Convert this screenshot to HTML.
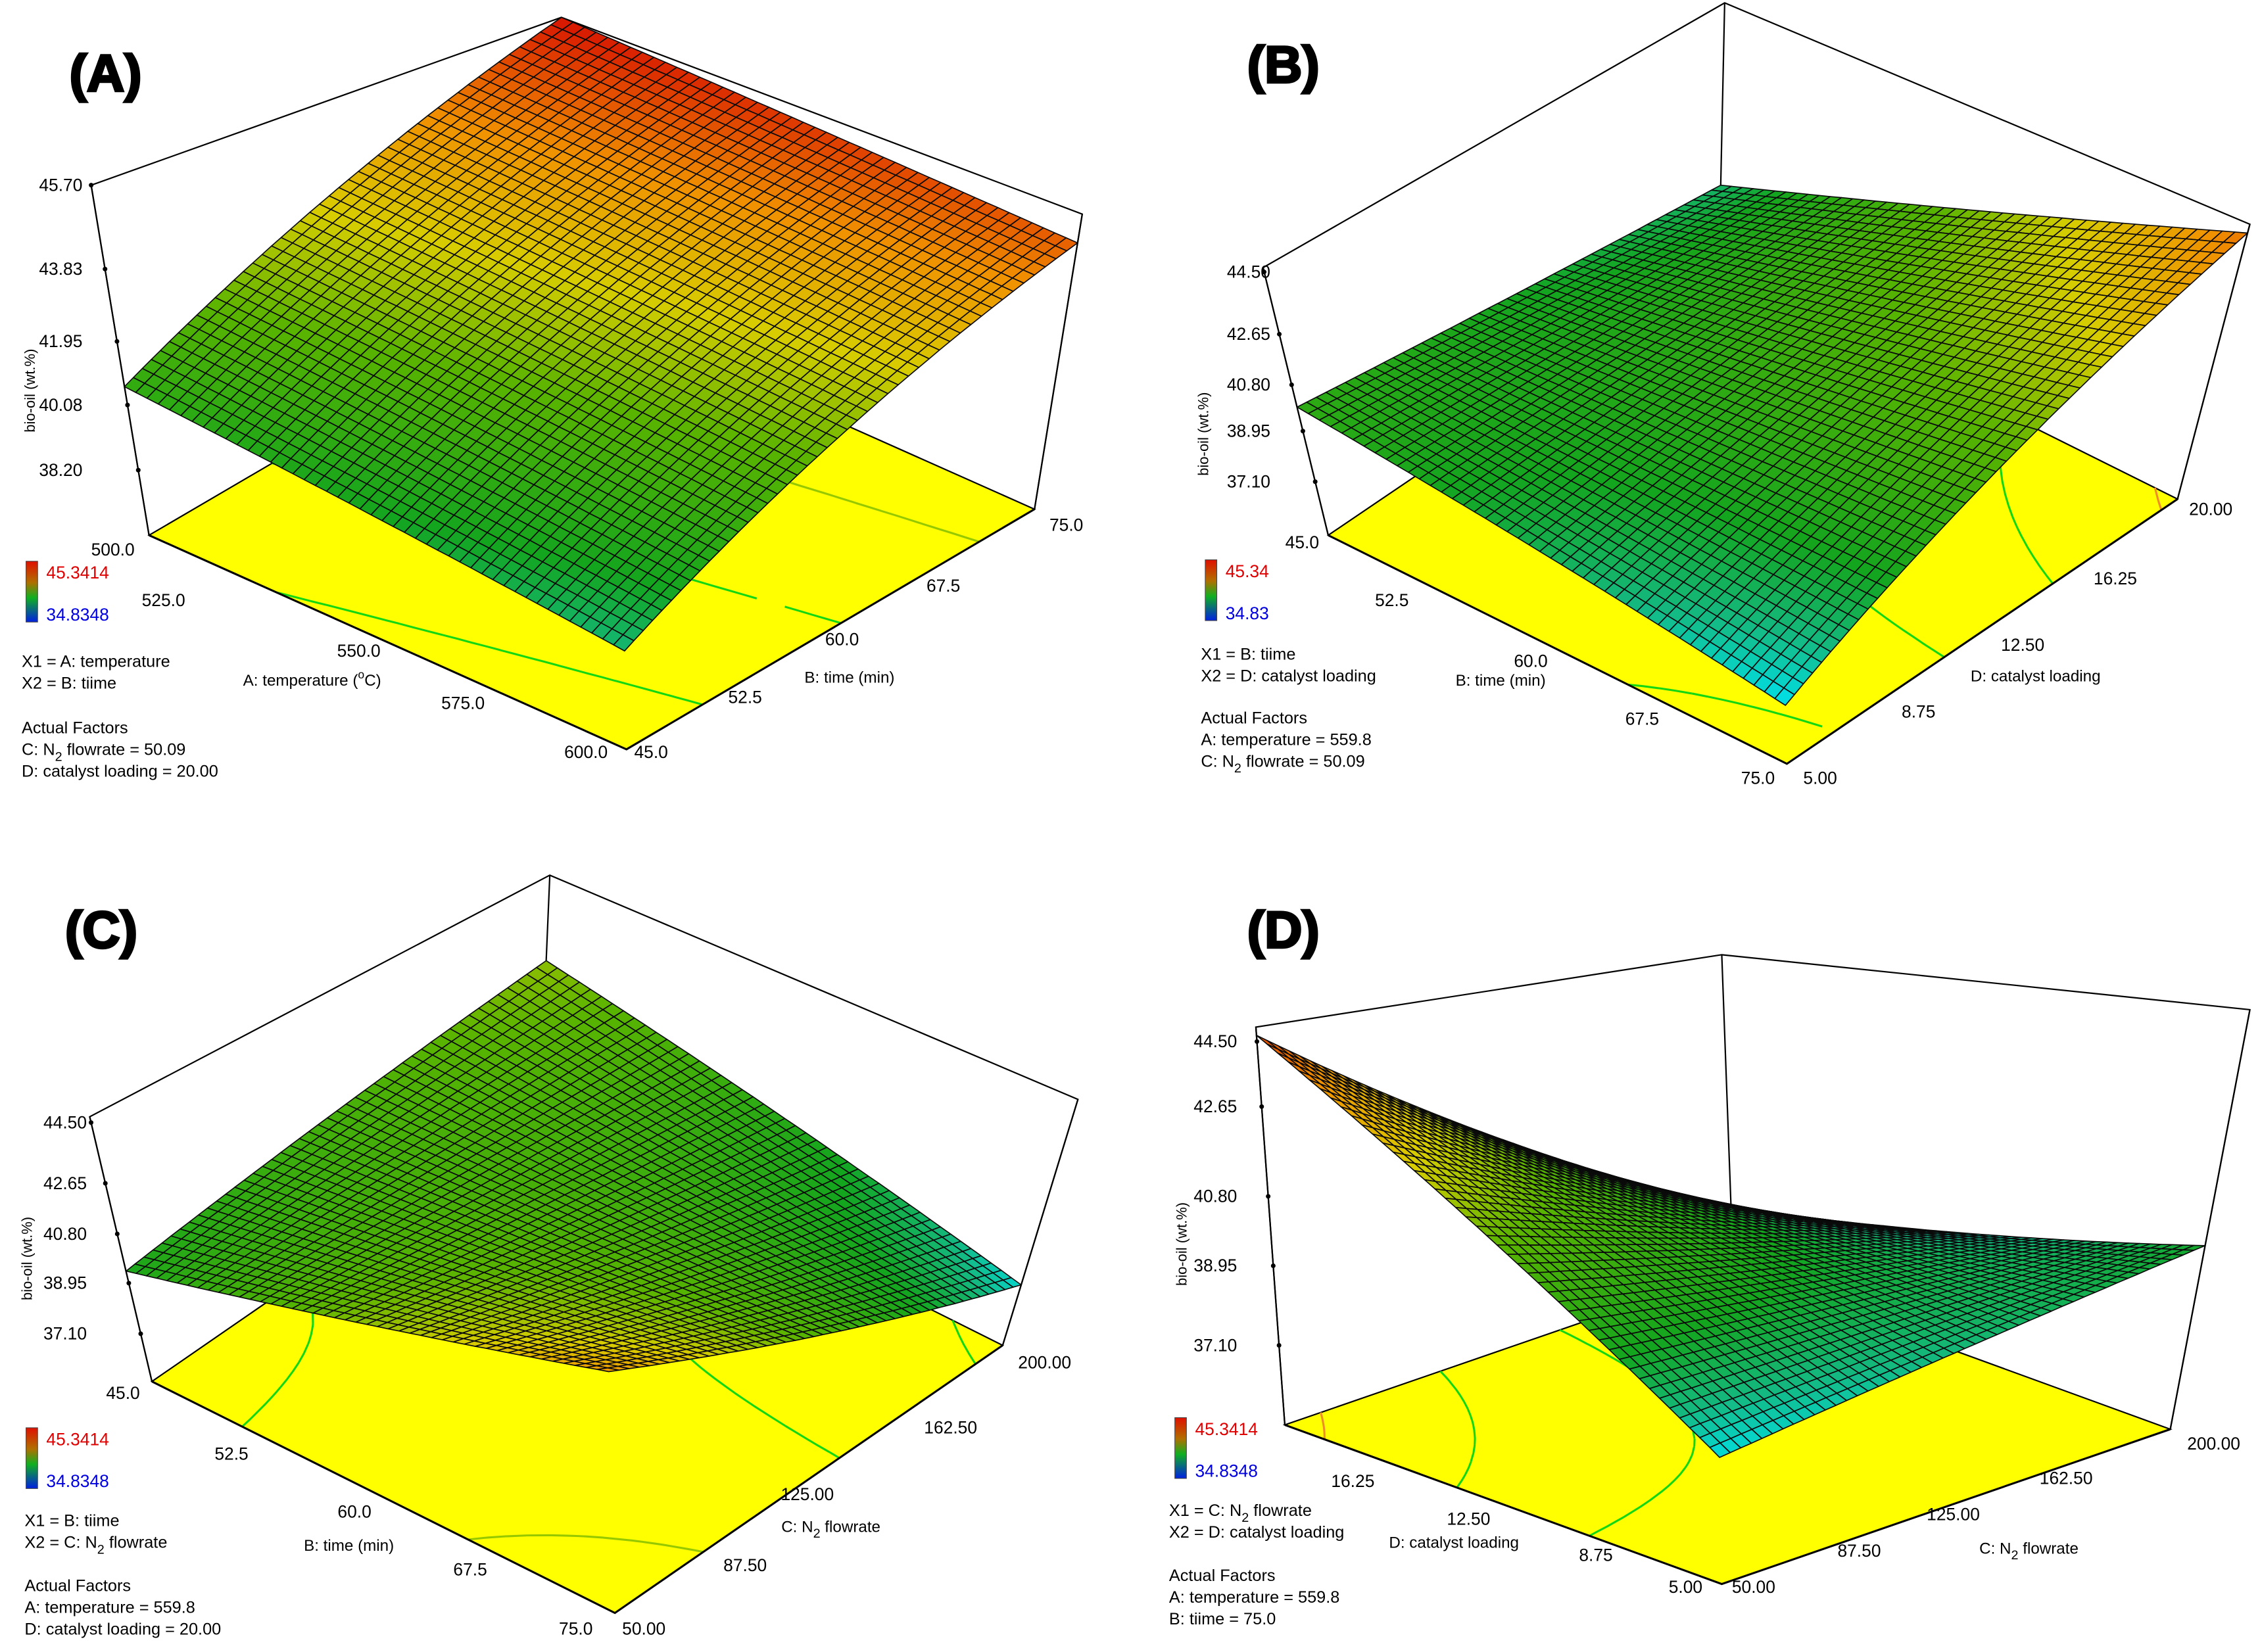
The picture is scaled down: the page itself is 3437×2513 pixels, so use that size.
<!DOCTYPE html>
<html><head><meta charset="utf-8"><title>Response surfaces</title>
<style>
html,body{margin:0;padding:0;background:#fff;}
svg{display:block;}
text{font-family:"Liberation Sans",Arial,sans-serif;}
</style></head>
<body>
<svg id="fig" xmlns="http://www.w3.org/2000/svg" width="3437" height="2513" viewBox="0 0 1562 1142" preserveAspectRatio="none">
<rect x="0" y="0" width="1562" height="1142" fill="#fff"/>
</svg>
<script>
// ---- Data (bio-oil wt.% at surface corners: [x1lo,x2lo],[x1hi,x2lo],[x1hi,x2hi],[x1lo,x2hi]) ----
const zA = [40.4, 38.9, 44.8, 45.7];
const zB = [39.7, 37.1, 44.3, 38.2];
const zC = [39.2, 43.3, 37.6, 41.3];
const zD = [44.6, 38.0, 39.4, 37.1];
// axis ranges
const x1A = [500, 600], x2A = [45, 75];
const x1B = [45, 75],   x2B = [5, 20];
const x1C = [45, 75],   x2C = [50, 200];
const x1D = [20, 5],    x2D = [50, 200];
// tick labels
const zTicksA = ["45.70","43.83","41.95","40.08","38.20"];
const zTicksB = ["44.50","42.65","40.80","38.95","37.10"];
const zTicksC = ["44.50","42.65","40.80","38.95","37.10"];
const zTicksD = ["44.50","42.65","40.80","38.95","37.10"];
const x1TicksA = ["500.0","525.0","550.0","575.0","600.0"];
const x2TicksA = ["45.0","52.5","60.0","67.5","75.0"];
const x1TicksB = ["45.0","52.5","60.0","67.5","75.0"];
const x2TicksB = ["5.00","8.75","12.50","16.25","20.00"];
const x1TicksC = ["45.0","52.5","60.0","67.5","75.0"];
const x2TicksC = ["50.00","87.50","125.00","162.50","200.00"];
const x1TicksD = ["16.25","12.50","8.75","5.00"];
const x2TicksD = ["50.00","87.50","125.00","162.50","200.00"];
// contour levels on floor
const levelsA = [38.0, 40.0, 42.0, 44.0];
const levelsB = [38.0, 40.0, 42.0, 44.0];
const levelsC = [38.0, 40.0, 42.0];
const levelsD = [38.0, 40.0, 42.0, 44.0];

// ---- Layout (screen geometry, not data) ----
const panels = [
 {key:'a', z:zA, x1:x1A, x2:x2A, zt:zTicksA, t1:x1TicksA, t2:x2TicksA, lv:levelsA,
  L:[103,370],F:[433,518],R:[715,352],B:[385,205],
  vL:[-40,-242],vF:[-5,-260],vR:[33,-204],vB:[3,-193], zlo:36.49, zhi:45.7, clo:38.0, chi:45.7,
  title:"(A)", tpos:[48,63],
  ztY:[128,186,236,280,325], ztX:57, zlabel:[24,270],
  t1pos:[[78,384],[113,419],[248,454],[320,490],[405,524]],
  t2pos:[[450,524],[515,486],[582,446],[652,409],[737,367]],
  a1:["A: temperature (",")"], a1pos:[168,474],
  a2:"B: time (min)", a2pos:[556,472],
  bar:[18,388], lblHi:"45.3414", lblLo:"34.8348",
  info:[["X1 = A: temperature",461],["X2 = B: tiime",476],["Actual Factors",507],["C: N2 flowrate = 50.09",522],["D: catalyst loading = 20.00",537]], infoX:15},
 {key:'b', z:zB, x1:x1B, x2:x2B, zt:zTicksB, t1:x1TicksB, t2:x2TicksB, lv:levelsB,
  L:[918,370],F:[1235,528],R:[1505,345],B:[1188,187],
  vL:[-45,-185],vF:[-5,-200],vR:[50,-190],vB:[4,-185], zlo:35.2, zhi:44.6, clo:37.1, chi:45.6,
  title:"(B)", tpos:[862,57],
  ztY:[188,231,266,298,333], ztX:878, zlabel:[835,300],
  t1pos:[[900,379],[962,419],[1058,461],[1135,501],[1215,542]],
  t2pos:[[1258,542],[1326,496],[1398,450],[1462,404],[1528,356]],
  a1:"B: time (min)", a1pos:[1006,474],
  a2:"D: catalyst loading", a2pos:[1362,471],
  bar:[833,387], lblHi:"45.34", lblLo:"34.83",
  info:[["X1 = B: tiime",456],["X2 = D: catalyst loading",471],["Actual Factors",500],["A: temperature = 559.8",515],["C: N2 flowrate = 50.09",530]], infoX:830},
 {key:'c', z:zC, x1:x1C, x2:x2C, zt:zTicksC, t1:x1TicksC, t2:x2TicksC, lv:levelsC,
  L:[105,955],F:[425,1115],R:[693,930],B:[373,770],
  vL:[-43,-183],vF:[-5,-195],vR:[52,-170],vB:[7,-165], zlo:35.3, zhi:44.65, clo:37.4, chi:44.9,
  title:"(C)", tpos:[45,655],
  ztY:[776,818,853,887,922], ztX:60, zlabel:[22,870],
  t1pos:[[85,967],[160,1009],[245,1049],[325,1089],[398,1130]],
  t2pos:[[445,1130],[515,1086],[558,1037],[657,991],[722,946]],
  a1:"B: time (min)", a1pos:[210,1072],
  a2:"C: N2 flowrate", a2pos:[540,1059],
  bar:[18,987], lblHi:"45.3414", lblLo:"34.8348",
  info:[["X1 = B: tiime",1055],["X2 = C: N2 flowrate",1070],["Actual Factors",1100],["A: temperature = 559.8",1115],["D: catalyst loading = 20.00",1130]], infoX:17},
 {key:'d', z:zD, x1:x1D, x2:x2D, zt:zTicksD, t1:x1TicksD, t2:x2TicksD, lv:levelsD,
  L:[888,985],F:[1190,1095],R:[1500,988],B:[1198,878],
  vL:[-20,-275],vF:[-5,-300],vR:[55,-290],vB:[-8,-218], zlo:35.2, zhi:44.8, clo:37.9, chi:45.2,
  title:"(D)", tpos:[862,655],
  ztY:[720,765,827,875,930], ztX:855, zlabel:[820,860],
  t1pos:[[935,1028],[1015,1054],[1103,1079],[1165,1101]],
  t2pos:[[1212,1101],[1285,1076],[1350,1051],[1428,1026],[1530,1002]],
  a1:"D: catalyst loading", a1pos:[960,1070],
  a2:"C: N2 flowrate", a2pos:[1368,1074],
  bar:[812,980], lblHi:"45.3414", lblLo:"34.8348",
  info:[["X1 = C: N2 flowrate",1048],["X2 = D: catalyst loading",1063],["Actual Factors",1093],["A: temperature = 559.8",1108],["B: tiime = 75.0",1123]], infoX:808}
];

const NS = "http://www.w3.org/2000/svg";
const svg = document.getElementById('fig');
function mk(tag, attrs, parent){const e=document.createElementNS(NS,tag);for(const k in attrs)e.setAttribute(k,attrs[k]);(parent||svg).appendChild(e);return e;}
function lerp(a,b,t){return a+(b-a)*t;}
function bil(p,u,v,a,b,c,d){return (1-u)*(1-v)*a[p]+u*(1-v)*b[p]+u*v*c[p]+(1-u)*v*d[p];}
function zval(P,u,v){const z=P.z;return (1-u)*(1-v)*z[0]+u*(1-v)*z[1]+u*v*z[2]+(1-u)*v*z[3];}
function floorPt(P,u,v){return [bil(0,u,v,P.L,P.F,P.R,P.B),bil(1,u,v,P.L,P.F,P.R,P.B)];}
function vertV(P,u,v){return [bil(0,u,v,P.vL,P.vF,P.vR,P.vB),bil(1,u,v,P.vL,P.vF,P.vR,P.vB)];}
function proj(P,u,v,z){const f=floorPt(P,u,v),w=vertV(P,u,v),s=(z-P.zlo)/(P.zhi-P.zlo);return [f[0]+w[0]*s,f[1]+w[1]*s];}
const stops=[[0,[0,225,235]],[0.1,[20,185,130]],[0.22,[20,165,30]],[0.45,[90,180,0]],[0.62,[215,205,0]],[0.8,[240,145,0]],[1,[215,20,0]]];
function cmap(t){t=Math.max(0,Math.min(1,t));for(let i=1;i<stops.length;i++){if(t<=stops[i][0]){const a=stops[i-1],b=stops[i],k=(t-a[0])/(b[0]-a[0]);return 'rgb('+[0,1,2].map(j=>Math.round(lerp(a[1][j],b[1][j],k))).join(',')+')';}}return 'rgb(215,20,0)';}
function ccol(t){return t<0.6?'rgb(20,215,20)':(t<0.8?'rgb(150,200,0)':'rgb(240,140,40)');}
function pts(a){return a.map(p=>p[0].toFixed(1)+','+p[1].toFixed(1)).join(' ');}

panels.forEach(P=>{
  const g=mk('g',{});
  
  
  const topL=[P.L[0]+P.vL[0],P.L[1]+P.vL[1]], topB=[P.B[0]+P.vB[0],P.B[1]+P.vB[1]], topR=[P.R[0]+P.vR[0],P.R[1]+P.vR[1]];
  const box=mk('polyline',{points:pts([P.L,topL,topB,topR,P.R]),fill:'none',stroke:'#000','stroke-width':1},g);
  
  
  const bv=mk('line',{x1:P.B[0],y1:P.B[1],x2:topB[0],y2:topB[1],stroke:'#000','stroke-width':1},g);
  
  
  const fl=mk('polygon',{points:pts([P.L,P.F,P.R,P.B]),fill:'#ffff00',stroke:'#000','stroke-width':1},g);
  
  
  const N=40;
  P.lv.forEach(lev=>{
    let d='';
    for(let i=0;i<N;i++)for(let j=0;j<N;j++){
      const u0=i/N,u1=(i+1)/N,v0=j/N,v1=(j+1)/N;
      const c=[[u0,v0],[u1,v0],[u1,v1],[u0,v1]];
      const zs=c.map(q=>zval(P,q[0],q[1]));
      const cr=[];
      for(let k=0;k<4;k++){const a=zs[k],b=zs[(k+1)%4];if((a-lev)*(b-lev)<0){const t=(lev-a)/(b-a);cr.push([lerp(c[k][0],c[(k+1)%4][0],t),lerp(c[k][1],c[(k+1)%4][1],t)]);}}
      if(cr.length>=2){const p1=floorPt(P,cr[0][0],cr[0][1]),p2=floorPt(P,cr[1][0],cr[1][1]);d+='M'+p1[0].toFixed(1)+' '+p1[1].toFixed(1)+'L'+p2[0].toFixed(1)+' '+p2[1].toFixed(1);}
    }
    if(d){const cl=mk('path',{d:d,fill:'none',stroke:ccol((lev-P.clo)/(P.chi-P.clo)),'stroke-width':1.4},g);
      
      }
  });
  mk('polyline',{points:pts([P.L,P.F,P.R]),fill:'none',stroke:'#000','stroke-width':1.4},g);
  const M=45, cells=[];
  for(let i=0;i<M;i++)for(let j=0;j<M;j++){
    const u0=i/M,u1=(i+1)/M,v0=j/M,v1=(j+1)/M;
    const q=[[u0,v0],[u1,v0],[u1,v1],[u0,v1]].map(c=>proj(P,c[0],c[1],zval(P,c[0],c[1])));
    const zc=zval(P,(u0+u1)/2,(v0+v1)/2);
    const depth=floorPt(P,(u0+u1)/2,(v0+v1)/2)[1];
    cells.push({q,zc,depth});
  }
  cells.sort((a,b)=>a.depth-b.depth);
  const sg=mk('g',{stroke:'#0a0a0a','stroke-width':0.75,'stroke-linejoin':'round'},g);
  
  
  cells.forEach(c=>{
    const p=mk('polygon',{points:pts(c.q),fill:cmap((c.zc-P.clo)/(P.chi-P.clo))},sg);
    
    
  });
  const ax=mk('line',{x1:P.L[0],y1:P.L[1],x2:topL[0],y2:topL[1],stroke:'#000','stroke-width':1},g);
  
  
  const rv=mk('line',{x1:P.R[0],y1:P.R[1],x2:topR[0],y2:topR[1],stroke:'#000','stroke-width':1},g);
  
  
  P.zt.forEach((t,k)=>{
    const y=P.ztY[k], s=(P.L[1]-y)/(-P.vL[1]), x=P.L[0]+P.vL[0]*s;
    mk('circle',{cx:x,cy:y,r:1.6,fill:'#000'},g);
    const tx=mk('text',{x:P.ztX,y:y+4,'font-size':12,'text-anchor':'end',fill:'#000'},g);
    tx.textContent=t;
    
    
  });
  const zl=mk('text',{x:P.zlabel[0],y:P.zlabel[1],'font-size':10,'text-anchor':'middle',transform:'rotate(-90 '+P.zlabel[0]+' '+P.zlabel[1]+')'},g);
  zl.textContent='bio-oil (wt.%)';
  
  
  P.t1.forEach((t,k)=>{const tx=mk('text',{x:P.t1pos[k][0],y:P.t1pos[k][1],'font-size':12,'text-anchor':'middle'},g);tx.textContent=t;
    
    });
  P.t2.forEach((t,k)=>{const tx=mk('text',{x:P.t2pos[k][0],y:P.t2pos[k][1],'font-size':12,'text-anchor':'middle'},g);tx.textContent=t;
    
    });
  let a1=mk('text',{x:P.a1pos[0],y:P.a1pos[1],'font-size':11},g);
  if(Array.isArray(P.a1)){a1.innerHTML='A: temperature (<tspan dy="-5" font-size="8">o</tspan><tspan dy="5">C)</tspan>';}
  else a1.textContent=P.a1;
  
  
  let a2=mk('text',{x:P.a2pos[0],y:P.a2pos[1],'font-size':11},g);
  if(P.a2.indexOf('N2')>=0){a2.innerHTML='C: N<tspan dy="4" font-size="9">2</tspan><tspan dy="-4"> flowrate</tspan>';}
  else a2.textContent=P.a2;
  
  
  const tt=mk('text',{x:P.tpos[0],y:P.tpos[1],'font-size':36,'font-weight':'bold',stroke:'#000','stroke-width':1.6},g);
  tt.textContent=P.title;
  
  
  const gid='grad'+P.key;
  const defs=mk('defs',{},g);
  const lg=mk('linearGradient',{id:gid,x1:0,y1:0,x2:0,y2:1},defs);
  [['0','#e01000'],['0.35','#b07000'],['0.6','#10b020'],['1','#0020e0']].forEach(s=>mk('stop',{offset:s[0],'stop-color':s[1]},lg));
  const br=mk('rect',{x:P.bar[0],y:P.bar[1],width:8,height:42,fill:'url(#'+gid+')',stroke:'#444','stroke-width':0.5},g);
  
  
  const hi=mk('text',{x:P.bar[0]+14,y:P.bar[1]+12,'font-size':12,fill:'#e00000'},g);hi.textContent=P.lblHi;
  
  
  const lo=mk('text',{x:P.bar[0]+14,y:P.bar[1]+41,'font-size':12,fill:'#0000e0'},g);lo.textContent=P.lblLo;
  
  
  P.info.forEach(r=>{
    const tx=mk('text',{x:P.infoX,y:r[1],'font-size':11.5},g);
    if(r[0].indexOf('N2')>=0){const parts=r[0].split('N2');tx.innerHTML=parts[0]+'N<tspan dy="4" font-size="9">2</tspan><tspan dy="-4">'+parts[1]+'</tspan>';}
    else tx.textContent=r[0];
    
    
  });
});
</script>
</body></html>
